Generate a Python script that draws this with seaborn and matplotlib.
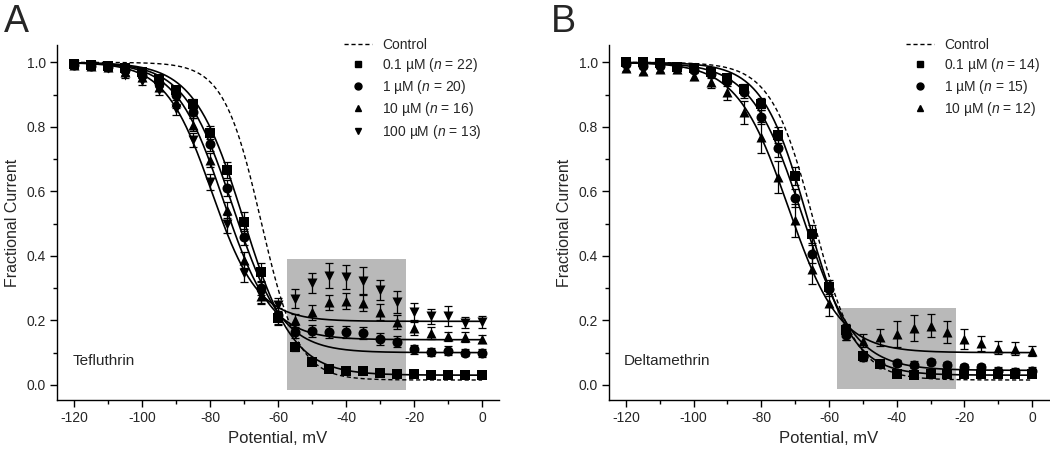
import numpy as np
import pandas as pd
import seaborn as sns
import matplotlib.pyplot as plt
from matplotlib.lines import Line2D
from matplotlib.patches import Rectangle
from matplotlib.ticker import MultipleLocator

# membrane potential steps (mV)
voltage = [-120, -115, -110, -105, -100, -95, -90, -85, -80, -75, -70, -65, -60,
           -55, -50, -45, -40, -35, -30, -25, -20, -15, -10, -5, 0]

# --- Tefluthrin (panel A) ---
tef_labels = ['0.1 µM ($n$ = 22)', '1 µM ($n$ = 20)', '10 µM ($n$ = 16)', '100 µM ($n$ = 13)']
tef_markers = ['s', 'o', '^', 'v']
tef_01 = [0.995, 0.993, 0.990, 0.983, 0.971, 0.947, 0.914, 0.871, 0.782, 0.666, 0.506, 0.349, 0.207,
          0.117, 0.071, 0.050, 0.044, 0.042, 0.038, 0.033, 0.034, 0.032, 0.032, 0.031, 0.032]
tef_01_err = [0.005, 0.005, 0.005, 0.006, 0.008, 0.010, 0.012, 0.015, 0.020, 0.026, 0.030, 0.030, 0.020,
              0.012, 0.008, 0.006, 0.005, 0.005, 0.005, 0.005, 0.005, 0.005, 0.005, 0.005, 0.005]
tef_1 = [0.993, 0.990, 0.986, 0.975, 0.960, 0.935, 0.899, 0.847, 0.747, 0.611, 0.458, 0.300, 0.217,
         0.165, 0.167, 0.163, 0.163, 0.160, 0.143, 0.133, 0.110, 0.102, 0.106, 0.100, 0.098]
tef_1_err = [0.005, 0.006, 0.007, 0.008, 0.010, 0.012, 0.015, 0.018, 0.022, 0.025, 0.025, 0.022, 0.020,
             0.020, 0.020, 0.018, 0.018, 0.018, 0.018, 0.017, 0.015, 0.013, 0.013, 0.012, 0.012]
tef_10 = [0.993, 0.990, 0.985, 0.970, 0.955, 0.925, 0.878, 0.806, 0.697, 0.542, 0.387, 0.274, 0.210,
          0.200, 0.225, 0.256, 0.261, 0.253, 0.225, 0.196, 0.176, 0.160, 0.150, 0.148, 0.142]
tef_10_err = [0.005, 0.006, 0.008, 0.010, 0.012, 0.015, 0.018, 0.020, 0.022, 0.025, 0.025, 0.022, 0.020,
              0.020, 0.023, 0.023, 0.025, 0.025, 0.025, 0.022, 0.020, 0.018, 0.015, 0.015, 0.013]
tef_100 = [0.992, 0.988, 0.982, 0.960, 0.943, 0.914, 0.854, 0.759, 0.630, 0.500, 0.346, 0.279, 0.248,
           0.267, 0.315, 0.339, 0.334, 0.323, 0.294, 0.258, 0.227, 0.212, 0.212, 0.193, 0.196]
tef_100_err = [0.005, 0.006, 0.008, 0.010, 0.012, 0.015, 0.018, 0.022, 0.025, 0.028, 0.028, 0.025, 0.022,
               0.030, 0.031, 0.040, 0.038, 0.042, 0.031, 0.034, 0.026, 0.023, 0.031, 0.017, 0.019]
# Boltzmann fits: V1/2, slope k, residual fraction
tef_fit_control = [-65.0, 5.5, 0.015]
tef_fits = [[-70.2, 7.3, 0.030], [-73.2, 7.2, 0.100], [-76.0, 7.0, 0.140], [-79.5, 6.8, 0.197]]

# --- Deltamethrin (panel B) ---
del_labels = ['0.1 µM ($n$ = 14)', '1 µM ($n$ = 15)', '10 µM ($n$ = 12)']
del_markers = ['s', 'o', '^']
del_01 = [1.000, 1.000, 0.997, 0.985, 0.984, 0.969, 0.950, 0.917, 0.871, 0.776, 0.647, 0.468, 0.303,
          0.170, 0.091, 0.065, 0.034, 0.032, 0.034, 0.034, 0.034, 0.034, 0.034, 0.033, 0.034]
del_01_err = [0.006, 0.006, 0.006, 0.007, 0.008, 0.010, 0.012, 0.015, 0.020, 0.025, 0.028, 0.028, 0.022,
              0.015, 0.010, 0.008, 0.008, 0.008, 0.008, 0.008, 0.008, 0.008, 0.008, 0.010, 0.010]
del_1 = [0.995, 0.990, 0.990, 0.985, 0.976, 0.964, 0.943, 0.907, 0.830, 0.733, 0.580, 0.406, 0.298,
         0.155, 0.086, 0.065, 0.067, 0.063, 0.070, 0.060, 0.055, 0.055, 0.042, 0.039, 0.042]
del_1_err = [0.006, 0.006, 0.007, 0.008, 0.010, 0.012, 0.015, 0.018, 0.022, 0.025, 0.028, 0.028, 0.022,
             0.015, 0.012, 0.010, 0.010, 0.010, 0.010, 0.010, 0.010, 0.010, 0.012, 0.012, 0.012]
del_10 = [0.983, 0.974, 0.980, 0.980, 0.959, 0.940, 0.907, 0.845, 0.768, 0.644, 0.510, 0.360, 0.253,
          0.165, 0.137, 0.148, 0.158, 0.177, 0.184, 0.163, 0.143, 0.129, 0.115, 0.112, 0.104]
del_10_err = [0.010, 0.010, 0.010, 0.012, 0.015, 0.020, 0.025, 0.035, 0.048, 0.050, 0.050, 0.047, 0.040,
              0.025, 0.020, 0.026, 0.040, 0.040, 0.036, 0.034, 0.031, 0.024, 0.020, 0.020, 0.016]
del_fit_control = [-64.5, 6.3, 0.015]
del_fits = [[-66.3, 6.7, 0.030], [-67.8, 7.6, 0.045], [-72.0, 7.6, 0.100]]

# shaded region (mV range, fractional current range)
tef_box = [-57.5, -22.5, -0.015, 0.39]
del_box = [-57.5, -22.5, -0.012, 0.238]

sns.set_theme(style='ticks')
plt.rcParams['font.family'] = ['Liberation Sans', 'DejaVu Sans']
plt.rcParams['mathtext.fontset'] = 'custom'
plt.rcParams['mathtext.it'] = 'Liberation Sans:italic'
plt.rcParams['mathtext.rm'] = 'Liberation Sans'
plt.rcParams['axes.unicode_minus'] = False


def boltzmann(v, p):
    vh, k, base = p
    return base + (1 - base) / (1 + np.exp((v - vh) / k))


def draw_panel(ax, means, errs, markers, labels, fit_ctrl, fits, box, drug, leg_x):
    ax.add_patch(Rectangle((box[0], box[2]), box[1] - box[0], box[3] - box[2],
                           facecolor='#b9b9b9', edgecolor='none', zorder=0))
    vv = np.linspace(-120, 0, 481)
    sns.lineplot(x=vv, y=boltzmann(vv, fit_ctrl), ax=ax, color='black', lw=1.0,
                 linestyle=(0, (3, 2)), zorder=2)
    for p in fits:
        sns.lineplot(x=vv, y=boltzmann(vv, p), ax=ax, color='black', lw=1.2, zorder=2)
    for m, e, mk in zip(means, errs, markers):
        ax.errorbar(voltage, m, yerr=e, fmt='none', ecolor='black', elinewidth=0.9,
                    capsize=3, capthick=0.9, zorder=3)
        df = pd.DataFrame({'v': voltage, 'i': m})
        sns.scatterplot(data=df, x='v', y='i', ax=ax, marker=mk, color='black',
                        s=52, edgecolor='black', linewidth=0, zorder=4)

    handles = [Line2D([], [], color='black', lw=1.0, linestyle=(0, (3, 2)))]
    handles += [Line2D([], [], color='black', marker=mk, linestyle='none', markersize=5)
                for mk in markers]
    ax.legend(handles, ['Control'] + labels, loc='upper left', bbox_to_anchor=(leg_x, 1.02),
              frameon=False, fontsize=10, handlelength=2.0, handletextpad=0.7,
              labelspacing=0.3, borderpad=0, borderaxespad=0)

    ax.text(-120.5, 0.075, drug, fontsize=11, va='center', ha='left')
    ax.set_xlim(-125, 5)
    ax.set_ylim(-0.047, 1.054)
    ax.xaxis.set_major_locator(MultipleLocator(20))
    ax.xaxis.set_minor_locator(MultipleLocator(10))
    ax.yaxis.set_major_locator(MultipleLocator(0.2))
    ax.yaxis.set_minor_locator(MultipleLocator(0.1))
    ax.yaxis.set_major_formatter(plt.FormatStrFormatter('%.1f'))
    ax.tick_params(which='major', length=5, width=1, labelsize=10, color='black', pad=3)
    ax.tick_params(which='minor', length=3, width=1, color='black')
    ax.set_xlabel('Potential, mV', fontsize=12, labelpad=4)
    ax.set_ylabel('Fractional Current', fontsize=11.5, labelpad=5)
    for side in ['top', 'right']:
        ax.spines[side].set_visible(False)
    for side in ['left', 'bottom']:
        ax.spines[side].set_color('black')
        ax.spines[side].set_linewidth(1.0)


fig = plt.figure(figsize=(10.5, 4.5), dpi=100)
ax_a = fig.add_axes([0.0543, 0.1111, 0.421, 0.789])
ax_b = fig.add_axes([0.580, 0.1111, 0.419, 0.789])

draw_panel(ax_a, [tef_01, tef_1, tef_10, tef_100],
           [tef_01_err, tef_1_err, tef_10_err, tef_100_err],
           tef_markers, tef_labels, tef_fit_control, tef_fits, tef_box, 'Tefluthrin', 0.65)
draw_panel(ax_b, [del_01, del_1, del_10],
           [del_01_err, del_1_err, del_10_err],
           del_markers, del_labels, del_fit_control, del_fits, del_box, 'Deltamethrin', 0.676)

fig.text(0.004, 0.99, 'A', fontsize=27, va='top', ha='left')
fig.text(0.525, 0.99, 'B', fontsize=27, va='top', ha='left')

fig.savefig('out.png', dpi=100)
plt.close(fig)
